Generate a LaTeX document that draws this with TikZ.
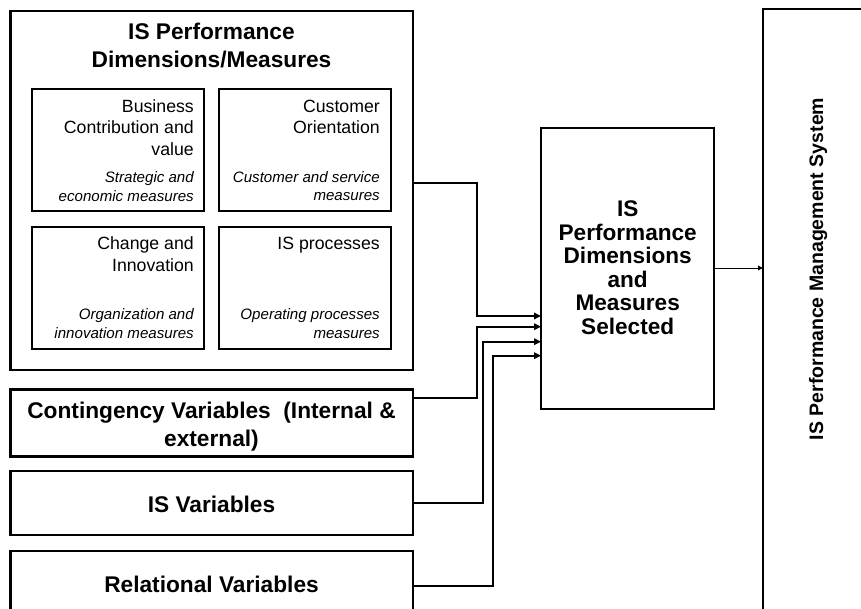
\documentclass[tikz,border=0pt]{standalone}
\usepackage{fontspec}
\setmainfont{Liberation Sans}
\usetikzlibrary{arrows.meta}
\begin{document}
\begin{tikzpicture}[x=1pt,y=-1pt,
  box/.style={draw, line width=2.2pt, inner sep=0pt, outer sep=0pt, anchor=north west},
  conn/.style={line width=1.7pt, -{Triangle[length=7pt,width=6.5pt]}},
  thinarrow/.style={line width=0.8pt, -{Triangle[length=5pt,width=4.5pt]}},
  bigbold/.style={font=\fontsize{22.7}{28}\selectfont\bfseries, inner sep=0pt, align=center},
  dimname/.style={font=\fontsize{17.7}{21.3}\selectfont, inner sep=0pt, align=right, anchor=base east},
  dimmeas/.style={font=\fontsize{15.1}{18.7}\selectfont\itshape, inner sep=0pt, align=right, anchor=base east}]
\clip (0,0) rectangle (861,609);
\fill[white] (0,0) rectangle (861,609);

% performance dimensions frame and its four quadrants
% (multi-line texts are placed by the baseline of their last line)
\node[box, minimum width=402.5pt, minimum height=359pt] (dims) at (10.5,11) {};
\node[bigbold, anchor=base] (dimstitle) at (211.5,67.7) {IS Performance\\Dimensions/Measures};

\node[box, minimum width=172pt, minimum height=122pt] (bcv) at (32,89) {};
\node[box, minimum width=172.3pt, minimum height=122pt] (cor) at (218.7,89) {};
\node[box, minimum width=172pt, minimum height=122.3pt] (chi) at (32,226.7) {};
\node[box, minimum width=172.3pt, minimum height=122.3pt] (isp) at (218.7,226.7) {};

\node[dimname] (bcvname) at (194,155.3) {Business\\Contribution and\\value};
\node[dimmeas] (bcvmeas) at (194,201.7) {Strategic and\\economic measures};
\node[dimname] (corname) at (380,134) {Customer\\Orientation};
\node[dimmeas] (cormeas) at (380,201) {Customer and service\\measures};
\node[dimname] (chiname) at (194,271.3) {Change and\\Innovation};
\node[dimmeas] (chimeas) at (194,338.3) {Organization and\\innovation measures};
\node[dimname] (ispname) at (380,250) {IS processes};
\node[dimmeas] (ispmeas) at (380,338) {Operating processes\\measures};

% variable boxes
\node[box, minimum width=402.5pt, minimum height=67pt] (cont) at (10.5,389.5) {};
\node[bigbold, anchor=base] (conttext) at (211.5,446.5) {Contingency Variables\ \ (Internal \&\\external)};
\node[box, minimum width=402.5pt, minimum height=64.6pt] (isvar) at (10.5,470.7) {};
\node[bigbold, anchor=base] (isvartext) at (211.5,512) {IS Variables};
\node[box, minimum width=402.5pt, minimum height=90pt] (relvar) at (10.5,550.7) {};
\node[bigbold, anchor=base] (relvartext) at (211.5,592) {Relational Variables};

% selected dimensions and management system
\node[box, minimum width=173.3pt, minimum height=281pt] (sel) at (541,128.3) {};
\node[font=\fontsize{22.6}{23.4}\selectfont\bfseries, inner sep=0pt, align=center, anchor=base] (seltext) at (627.7,334)
  {IS\\Performance\\Dimensions\\and\\Measures\\Selected};
\node[box, minimum width=140pt, minimum height=640pt] (pms) at (763,9) {};
\node[font=\fontsize{19.5}{23}\selectfont\bfseries, inner sep=0pt, rotate=90, anchor=base] (pmstext) at (823,269)
  {IS Performance Management System};

% connector bends
\coordinate (d0) at (dims.east |- 0,183.3);
\coordinate (c0) at (cont.east |- 0,397.7);
\coordinate (v0) at (isvar.east |- 0,503.3);
\coordinate (r0) at (relvar.east |- 0,586);
\coordinate (d1) at (sel.west |- 0,316);
\coordinate (c1) at (sel.west |- 0,326.7);
\coordinate (v1) at (sel.west |- 0,341.7);
\coordinate (r1) at (sel.west |- 0,355.7);
\coordinate (dk) at (477.3,0);
\coordinate (vk) at (483.3,0);
\coordinate (rk) at (492.7,0);

\draw[conn] (d0) -- (d0 -| dk) -- (d1 -| dk) -- (d1);
\draw[conn] (c0) -- (c0 -| dk) -- (c1 -| dk) -- (c1);
\draw[conn] (v0) -- (v0 -| vk) -- (v1 -| vk) -- (v1);
\draw[conn] (r0) -- (r0 -| rk) -- (r1 -| rk) -- (r1);

\coordinate (s0) at (sel.east |- 0,268);
\draw[thinarrow] (s0) -- (s0 -| pms.west);
\end{tikzpicture}
\end{document}
